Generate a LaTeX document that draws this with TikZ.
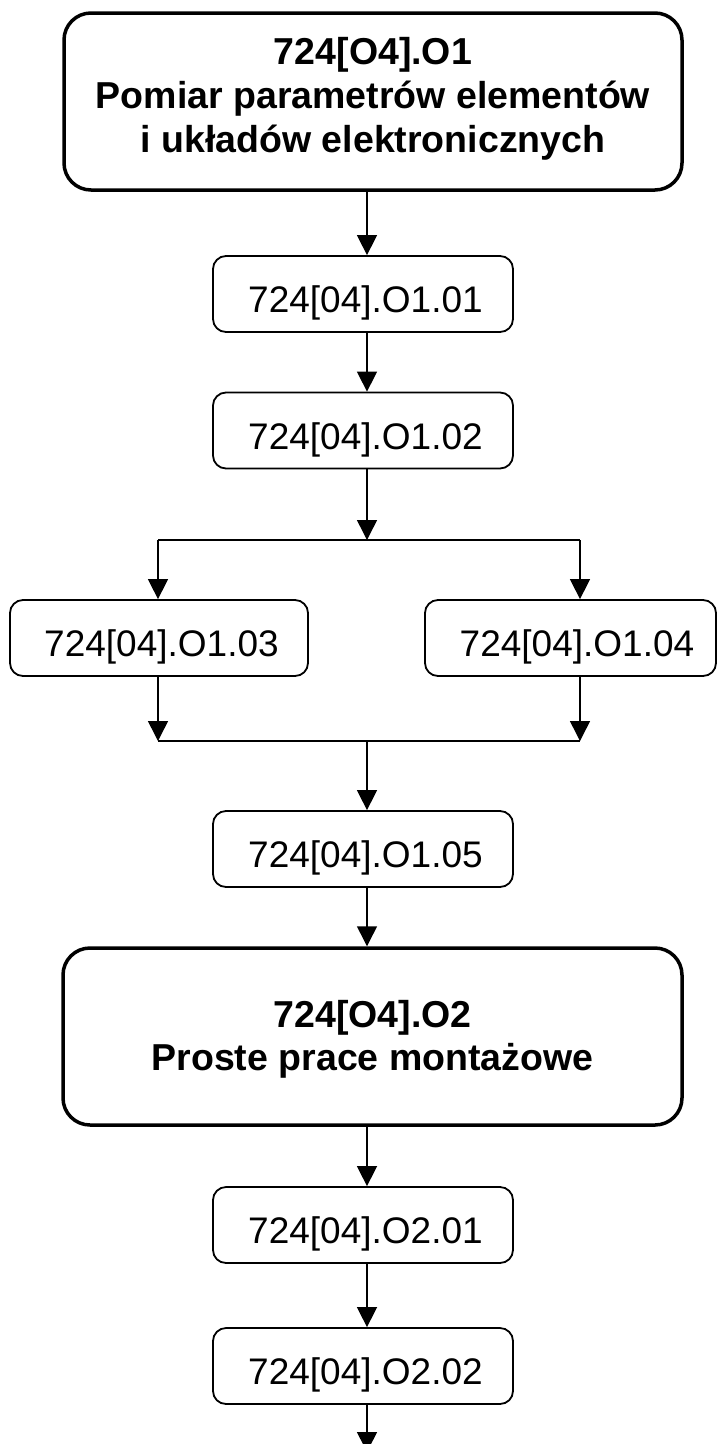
\documentclass[tikz,border=0pt]{standalone}
\usepackage{fontspec}
\setmainfont{Liberation Sans}
\usetikzlibrary{arrows.meta}

\tikzset{
  bigbox/.style={draw, line width=3.5pt, rounded corners=27pt, minimum width=618pt, minimum height=177pt, inner sep=0pt},
  smallbox/.style={draw, line width=1.8pt, rounded corners=13pt, minimum width=300pt, minimum height=76pt, inner sep=0pt},
  boxtext/.style={anchor=base, inner sep=0pt, font=\fontsize{37}{44}\selectfont},
  headtext/.style={anchor=base, inner sep=0pt, font=\bfseries\fontsize{37.5}{44}\selectfont},
  link/.style={line width=1.5pt},
  arr/.style={link, -{Triangle[length=20pt, width=20pt]}}
}

\begin{document}
\begin{tikzpicture}[x=1pt, y=-1pt]
\useasboundingbox (0,0) rectangle (717,1444);

% main spine of the chart
\coordinate (sp) at (367,0);

% first module
\node[bigbox] (b0) at (373,101.5) {};
\node[headtext] (t0a) at (373,64) {724[O4].O1};
\node[headtext] (t0b) at (373,108) {Pomiar parametrów elementów};
\node[headtext] (t0c) at (373,152) {i układów elektronicznych};

% units of the first module
\node[smallbox] (b1) at (363,294) {};
\node[boxtext] (t1) at (365.5,312) {724[04].O1.01};
\node[smallbox] (b2) at (363,430.5) {};
\node[boxtext] (t2) at (365.5,449) {724[04].O1.02};
\node[smallbox, minimum width=298pt] (b3) at (159,638) {};
\node[boxtext] (t3) at (161.5,656) {724[04].O1.03};
\node[smallbox, minimum width=291pt] (b4) at (570.5,638) {};
\node[boxtext] (t4) at (577,656) {724[04].O1.04};
\node[smallbox] (b5) at (363,849) {};
\node[boxtext] (t5) at (365.5,867) {724[04].O1.05};

% second module
\node[bigbox, minimum width=619pt] (b6) at (372.5,1036.5) {};
\node[headtext] (t6a) at (372.5,1027) {724[O4].O2};
\node[headtext] (t6b) at (372.5,1070) {Proste prace montażowe};

% units of the second module
\node[smallbox] (b7) at (363,1225) {};
\node[boxtext] (t7) at (365.5,1243) {724[04].O2.01};
\node[smallbox] (b8) at (363,1366) {};
\node[boxtext] (t8) at (365.5,1384) {724[04].O2.02};

% branching and merging points
\coordinate (j1) at (367,540);
\coordinate (jl1) at (158,540);
\coordinate (jr1) at (580,540);
\coordinate (j2) at (367,741);
\coordinate (jl2) at (158,741);
\coordinate (jr2) at (580,741);
\coordinate (fin) at (367,1452);

% connectors
\draw[arr] (b0.south -| sp) -- (b1.north -| sp);
\draw[arr] (b1.south -| sp) -- (b2.north -| sp);
\draw[arr] (b2.south -| sp) -- (j1);
\draw[link] (jl1) -- (jr1);
\draw[arr] (jl1) -- (b3.north -| jl1);
\draw[arr] (jr1) -- (b4.north -| jr1);
\draw[arr] (b3.south -| jl1) -- (jl2);
\draw[arr] (b4.south -| jr2) -- (jr2);
\draw[link] (jl2) -- (jr2);
\draw[arr] (j2) -- (b5.north -| sp);
\draw[arr] (b5.south -| sp) -- (b6.north -| sp);
\draw[arr] (b6.south -| sp) -- (b7.north -| sp);
\draw[arr] (b7.south -| sp) -- (b8.north -| sp);
\draw[arr] (b8.south -| sp) -- (fin);
\end{tikzpicture}
\end{document}
